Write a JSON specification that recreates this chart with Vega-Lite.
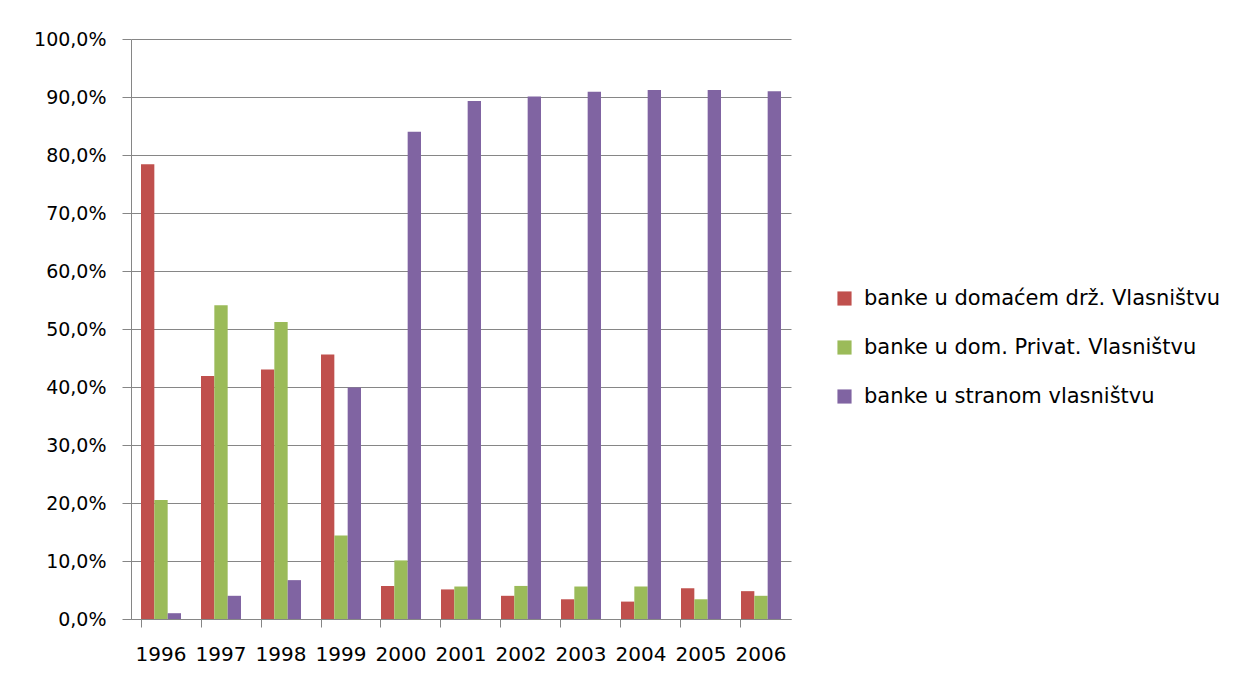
{
  "$schema": "https://vega.github.io/schema/vega-lite/v6.json",
  "autosize": "none",
  "width": 660,
  "height": 580,
  "padding": {"left": 131, "top": 39, "right": 442, "bottom": 57},
  "background": "white",
  "data": {
    "values": [
      {"year": "1996", "series": "banke u domaćem drž. Vlasništvu", "value": 0.784},
      {"year": "1996", "series": "banke u dom. Privat. Vlasništvu", "value": 0.205},
      {"year": "1996", "series": "banke u stranom vlasništvu", "value": 0.010},
      {"year": "1997", "series": "banke u domaćem drž. Vlasništvu", "value": 0.419},
      {"year": "1997", "series": "banke u dom. Privat. Vlasništvu", "value": 0.541},
      {"year": "1997", "series": "banke u stranom vlasništvu", "value": 0.040},
      {"year": "1998", "series": "banke u domaćem drž. Vlasništvu", "value": 0.430},
      {"year": "1998", "series": "banke u dom. Privat. Vlasništvu", "value": 0.512},
      {"year": "1998", "series": "banke u stranom vlasništvu", "value": 0.067},
      {"year": "1999", "series": "banke u domaćem drž. Vlasništvu", "value": 0.456},
      {"year": "1999", "series": "banke u dom. Privat. Vlasništvu", "value": 0.144},
      {"year": "1999", "series": "banke u stranom vlasništvu", "value": 0.399},
      {"year": "2000", "series": "banke u domaćem drž. Vlasništvu", "value": 0.057},
      {"year": "2000", "series": "banke u dom. Privat. Vlasništvu", "value": 0.101},
      {"year": "2000", "series": "banke u stranom vlasništvu", "value": 0.840},
      {"year": "2001", "series": "banke u domaćem drž. Vlasništvu", "value": 0.051},
      {"year": "2001", "series": "banke u dom. Privat. Vlasništvu", "value": 0.056},
      {"year": "2001", "series": "banke u stranom vlasništvu", "value": 0.893},
      {"year": "2002", "series": "banke u domaćem drž. Vlasništvu", "value": 0.040},
      {"year": "2002", "series": "banke u dom. Privat. Vlasništvu", "value": 0.057},
      {"year": "2002", "series": "banke u stranom vlasništvu", "value": 0.901},
      {"year": "2003", "series": "banke u domaćem drž. Vlasništvu", "value": 0.034},
      {"year": "2003", "series": "banke u dom. Privat. Vlasništvu", "value": 0.056},
      {"year": "2003", "series": "banke u stranom vlasništvu", "value": 0.909},
      {"year": "2004", "series": "banke u domaćem drž. Vlasništvu", "value": 0.030},
      {"year": "2004", "series": "banke u dom. Privat. Vlasništvu", "value": 0.056},
      {"year": "2004", "series": "banke u stranom vlasništvu", "value": 0.912},
      {"year": "2005", "series": "banke u domaćem drž. Vlasništvu", "value": 0.053},
      {"year": "2005", "series": "banke u dom. Privat. Vlasništvu", "value": 0.034},
      {"year": "2005", "series": "banke u stranom vlasništvu", "value": 0.912},
      {"year": "2006", "series": "banke u domaćem drž. Vlasništvu", "value": 0.048},
      {"year": "2006", "series": "banke u dom. Privat. Vlasništvu", "value": 0.040},
      {"year": "2006", "series": "banke u stranom vlasništvu", "value": 0.910}
    ]
  },
  "mark": {"type": "bar"},
  "encoding": {
    "x": {
      "field": "year",
      "type": "nominal",
      "scale": {"paddingInner": 0.3333, "paddingOuter": 0.1667},
      "axis": {
        "title": null,
        "labelAngle": 0,
        "bandPosition": 0,
        "ticks": true,
        "tickSize": 8,
        "tickColor": "#868686",
        "domainColor": "#868686",
        "labelFont": "DejaVu Sans",
        "labelFontSize": 20,
        "labelColor": "#000000",
        "labelPadding": 17,
        "grid": false
      }
    },
    "xOffset": {
      "field": "series",
      "type": "nominal",
      "sort": ["banke u domaćem drž. Vlasništvu", "banke u dom. Privat. Vlasništvu", "banke u stranom vlasništvu"],
      "scale": {"paddingInner": 0, "paddingOuter": 0}
    },
    "y": {
      "field": "value",
      "type": "quantitative",
      "scale": {"domain": [0, 1], "nice": false},
      "axis": {
        "title": null,
        "values": [0, 0.1, 0.2, 0.3, 0.4, 0.5, 0.6, 0.7, 0.8, 0.9, 1.0],
        "labelExpr": "replace(format(datum.value, '.1%'), '.', ',')",
        "tickSize": 9,
        "tickColor": "#868686",
        "domainColor": "#868686",
        "gridColor": "#868686",
        "gridWidth": 1,
        "labelFont": "DejaVu Sans",
        "labelFontSize": 19,
        "labelColor": "#000000",
        "labelPadding": 16
      }
    },
    "color": {
      "field": "series",
      "type": "nominal",
      "sort": ["banke u domaćem drž. Vlasništvu", "banke u dom. Privat. Vlasništvu", "banke u stranom vlasništvu"],
      "scale": {
        "domain": ["banke u domaćem drž. Vlasništvu", "banke u dom. Privat. Vlasništvu", "banke u stranom vlasništvu"],
        "range": ["#C0504D", "#9BBB59", "#8064A2"]
      },
      "legend": {
        "title": null,
        "orient": "none",
        "legendX": 703,
        "legendY": 249,
        "padding": 0,
        "symbolType": "square",
        "symbolSize": 200,
        "symbolStrokeWidth": 0,
        "labelOffset": 9,
        "labelFont": "DejaVu Sans",
        "labelFontSize": 21,
        "labelColor": "#000000",
        "rowPadding": 27,
        "labelLimit": 500
      }
    }
  },
  "config": {
    "view": {"stroke": null},
    "axis": {"gridOpacity": 1}
  }
}
